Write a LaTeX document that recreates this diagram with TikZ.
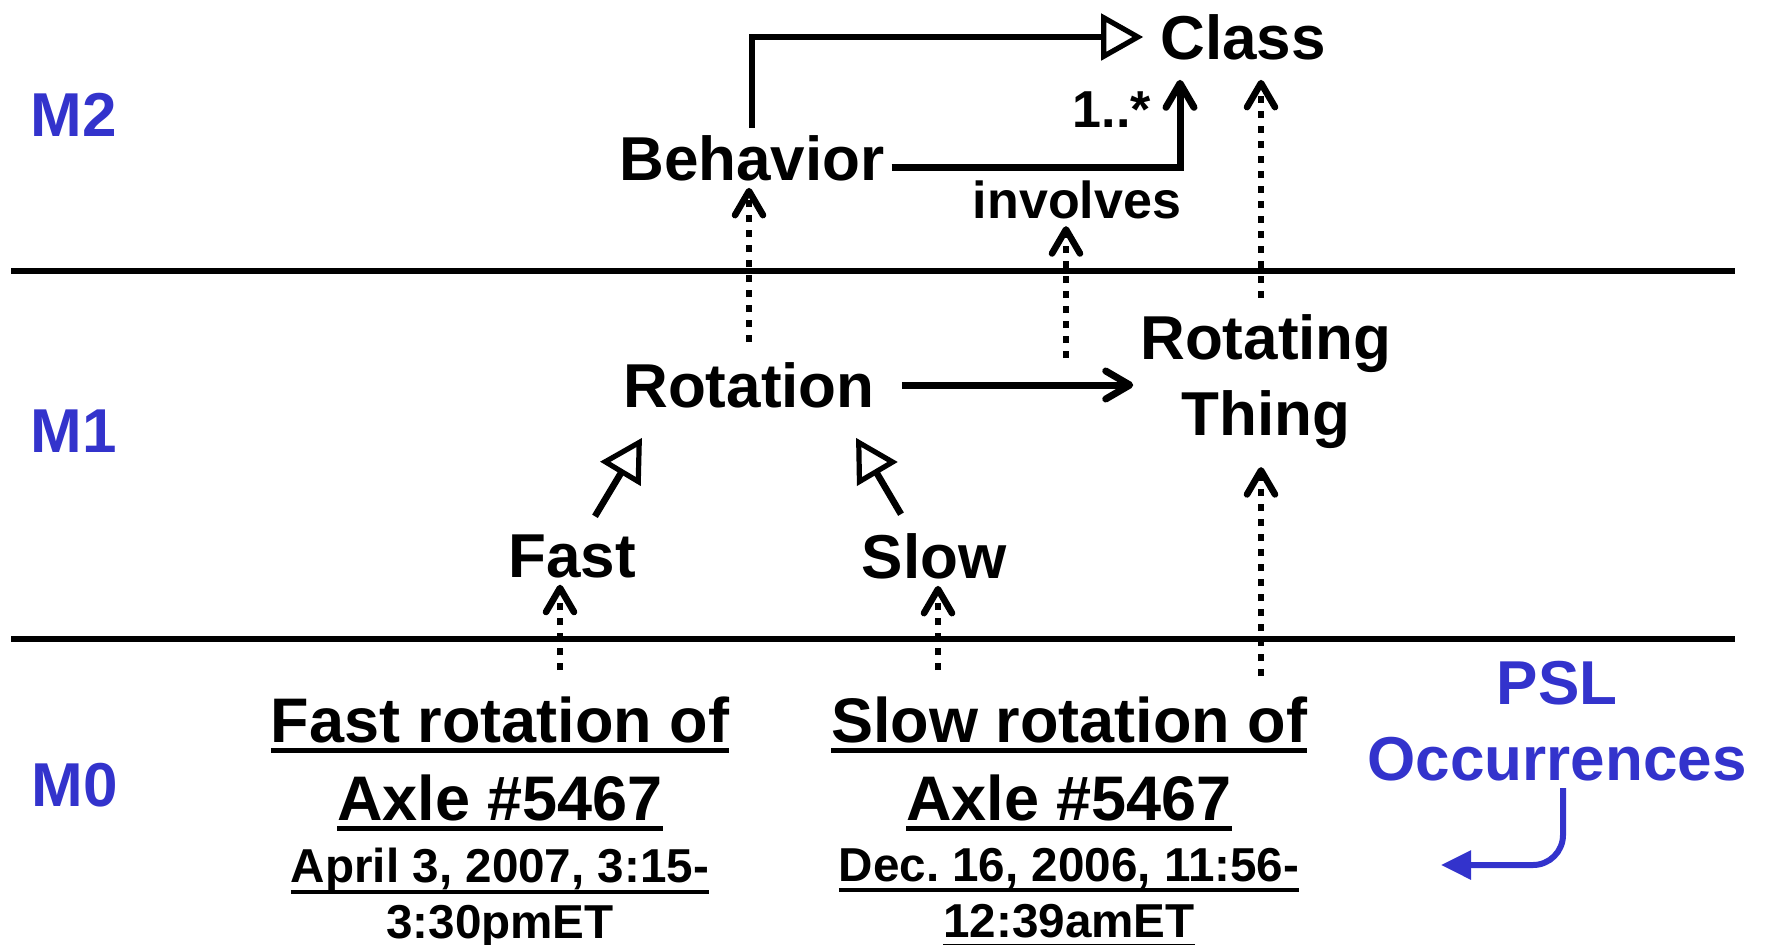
\documentclass[tikz,border=0pt]{standalone}
\usepackage{fontspec}
\setmainfont{Liberation Sans}
\usetikzlibrary{arrows.meta,positioning}
\definecolor{pslblue}{RGB}{51,51,204}
\newlength{\undlthick}
\newlength{\undldepth}
\setlength{\undlthick}{2.6pt}
\setlength{\undldepth}{3pt}
\newcommand{\undl}[1]{\leavevmode\setbox0\hbox{#1}\rlap{\rule[\dimexpr-\undldepth-\undlthick\relax]{\wd0}{\undlthick}}\box0}

\begin{document}
\begin{tikzpicture}[x=0.5pt, y=-0.5pt,
    element/.style={font=\bfseries\fontsize{31}{38}\selectfont, align=center},
    linklabel/.style={font=\bfseries\fontsize{26}{31}\selectfont},
    layer/.style={font=\bfseries\fontsize{31}{38}\selectfont, text=pslblue, align=center},
    occurrence/.style={anchor=north, inner sep=0pt, align=center, font=\bfseries\fontsize{31.5}{39}\selectfont\frenchspacing},
    datestamp/.style={anchor=north, inner sep=0pt, align=center, font=\bfseries\fontsize{23.8}{28}\selectfont\frenchspacing\setlength{\undlthick}{2pt}\setlength{\undldepth}{3.5pt}},
    generalizes/.style={line width=3.3pt, -{Triangle[open, length=21pt, width=23pt, line width=2.6pt]}},
    assoc/.style={line width=3.5pt, -{Straight Barb[length=12pt, width=14pt, round]}},
    instanceof/.style={line width=3.3pt, dash pattern=on 3.5pt off 4pt, -{Straight Barb[length=12pt, width=14pt, round]}},
    divider/.style={line width=2.8pt}]
  \useasboundingbox (0,0) rectangle (1766,944);

  % level separators
  \draw[divider] (11,271) -- (1735,271);
  \draw[divider] (11,639) -- (1735,639);

  \node[layer] (m2) at (74,115) {M2};
  \node[layer] (m1) at (74,431) {M1};
  \node[layer] (m0) at (75,785) {M0};

  % M2
  \node[element] (klass) at (1243,37) {Class};
  \node[element] (behavior) at (752,158) {Behavior};
  \node[linklabel] (mult) at (1112,110) {1..*};
  \node[linklabel] (involves) at (1077,200) {involves};

  % M1
  \node[element] (rotation) at (749,385) {Rotation};
  \node[element] (rthing) at (1266,382) {Rotating\\Thing};
  \node[element] (fast) at (572,556) {Fast};
  \node[element] (slow) at (934,556) {Slow};

  % M0
  \node[occurrence] (fastocc) at (500,696) {\undl{Fast rotation of}\\\undl{Axle \#5467}};
  \node[datestamp, below=8pt of fastocc] (fastdate) {\undl{April 3, 2007, 3:15-}\\\undl{3:30pmET}};
  \node[occurrence] (slowocc) at (1069,696) {\undl{Slow rotation of}\\\undl{Axle \#5467}};
  \node[datestamp, below=8pt of slowocc] (slowdate) {\undl{Dec. 16, 2006, 11:56-}\\\undl{12:39amET}};
  \node[layer] (psl) at (1557,721) {PSL\\Occurrences};
  \coordinate (pslpoint) at (1441,865);
  \coordinate (involvedat) at (1066,358);

  \draw[generalizes] (behavior.north) |- ([xshift=-5pt]klass.west);
  \draw[assoc] ([yshift=-4.5pt]behavior.east) -| ([xshift=-31.5pt,yshift=-6.5pt]klass.south);
  \draw[assoc, shorten <=10pt] (rotation.east) -- (rotation.east -| rthing.west);
  \draw[generalizes] ([xshift=11.5pt,yshift=5.5pt]fast.north) -- ([xshift=-53.5pt,yshift=-11.5pt]rotation.south);
  \draw[generalizes] ([xshift=-16.5pt,yshift=6pt]slow.north) -- ([xshift=53.5pt,yshift=-11.5pt]rotation.south);

  \draw[instanceof, shorten <=6.5pt] (rotation.north) -- (rotation.north |- behavior.south);
  \draw[instanceof] (involvedat) -- (involvedat |- involves.south);
  \draw[instanceof, shorten <=5pt, shorten >=6.5pt] ([xshift=-2.5pt]rthing.north) -- ([xshift=-2.5pt]rthing.north |- klass.south);
  \draw[instanceof, shorten <=13pt] ([xshift=-6pt]fast.south |- fastocc.north) -- ([xshift=-6pt]fast.south);
  \draw[instanceof, shorten <=13pt] ([xshift=2pt]slow.south |- slowocc.north) -- ([xshift=2pt]slow.south);
  \draw[instanceof, shorten <=10pt, shorten >=5.5pt] ([xshift=-2.5pt]rthing.south |- slowocc.north) -- ([xshift=-2.5pt]rthing.south);

  \draw[pslblue, line width=3pt, rounded corners=15pt, -{Triangle[length=15pt, width=14pt]}] ([xshift=3pt]psl.south) |- (pslpoint);
\end{tikzpicture}
\end{document}
